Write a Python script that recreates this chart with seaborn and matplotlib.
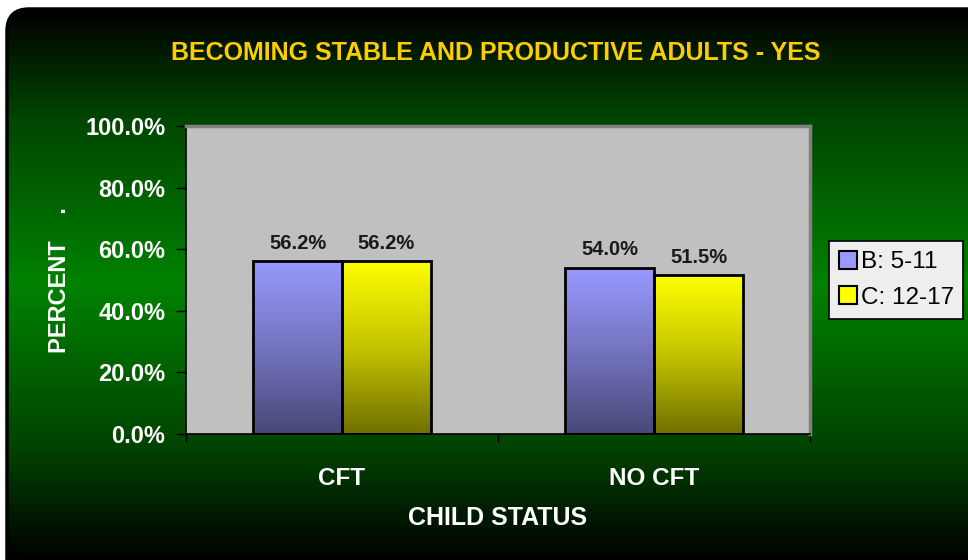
import matplotlib
matplotlib.use('Agg')
import matplotlib.pyplot as plt
import numpy as np
import pandas as pd
import seaborn as sns
from matplotlib.colors import LinearSegmentedColormap
from matplotlib.patches import FancyBboxPatch, Patch

# Data
categories = ['CFT', 'NO CFT']
groups = ['B: 5-11', 'C: 12-17']
b_values = [56.2, 54.0]
c_values = [56.2, 51.5]
y_ticks = [0, 20, 40, 60, 80, 100]

df = pd.DataFrame({
    'status': categories * 2,
    'group': [groups[0]] * 2 + [groups[1]] * 2,
    'pct': b_values + c_values,
})

sns.set_theme(style='white')
plt.rcParams['font.family'] = ['Liberation Sans', 'DejaVu Sans']

W, H = 968, 560
fig = plt.figure(figsize=(W / 100, H / 100), dpi=100)
fig.patch.set_facecolor('white')

# Background: rounded panel with a black-green-black gradient
bg = fig.add_axes([0, 0, 1, 1], zorder=-10)
bg.set_xlim(0, W)
bg.set_ylim(H, 0)
bg.axis('off')
panel = FancyBboxPatch((7, 9), W + 30, H + 30, boxstyle='round,pad=0,rounding_size=22',
                       facecolor='none', edgecolor='black', linewidth=2.5)
bg.add_patch(panel)
green_cm = LinearSegmentedColormap.from_list(
    'bg', [(0, '#000000'), (0.2, '#004200'), (0.5, '#008200'), (0.8, '#004600'), (1, '#000000')])
grad = np.linspace(0, 1, 256).reshape(-1, 1)
im = bg.imshow(grad, extent=[7, W + 37, H, 9], aspect='auto', cmap=green_cm, origin='lower')
im.set_clip_path(panel)

# Main plot
ax = fig.add_axes([186 / W, 1 - 434 / H, 624 / W, 308 / H])
ax.set_facecolor('#C0C0C0')

sns.barplot(data=df, x='status', y='pct', hue='group', hue_order=groups, order=categories,
            palette=['#9999FF', '#FFFF00'], width=0.57, edgecolor='black', linewidth=2,
            legend=False, ax=ax)

# vertical gradient inside each bar
cmaps = [LinearSegmentedColormap.from_list('b', ['#484878', '#7474C0', '#9999FF']),
         LinearSegmentedColormap.from_list('c', ['#707000', '#C4C400', '#FFFF00'])]
vgrad = np.linspace(0, 1, 256).reshape(-1, 1)
for cont, cm in zip(ax.containers, cmaps):
    for p in cont:
        x, w, h = p.get_x(), p.get_width(), p.get_height()
        p.set_facecolor('none')
        p.set_zorder(3)
        g = ax.imshow(vgrad, extent=[x, x + w, 0, h], aspect='auto', cmap=cm,
                      origin='lower', zorder=2)
        g.set_clip_path(p)
    ax.bar_label(cont, fmt='%.1f%%', padding=6, fontsize=14.5, fontweight='bold', color='#1a1a1a')

ax.set_xlim(-0.5, 1.5)
ax.set_ylim(0, 100)
ax.set_yticks(y_ticks)
ax.set_yticklabels([f'{v:.1f}%' for v in y_ticks], fontsize=17, fontweight='bold', color='white')
ax.tick_params(axis='y', direction='out', length=7, width=1, color='black', pad=8, left=True)
ax.set_xticks([0, 1])
ax.set_xticklabels(categories, fontsize=17.5, fontweight='bold', color='white')
ax.set_xticks([-0.5, 0.5, 1.5], minor=True)
ax.tick_params(axis='x', which='major', length=0, pad=24)
ax.tick_params(axis='x', which='minor', direction='out', length=6, width=1, color='black', bottom=True)

for side in ['top', 'right']:
    ax.spines[side].set_color('#808080')
    ax.spines[side].set_linewidth(2.5)
for side in ['left', 'bottom']:
    ax.spines[side].set_color('black')
    ax.spines[side].set_linewidth(1.2)

ax.set_xlabel('CHILD STATUS', fontsize=18, fontweight='bold', color='white', labelpad=11)
ax.set_ylabel('PERCENT    .', fontsize=17, fontweight='bold', color='white', labelpad=10)

fig.text(496 / W, 1 - 53 / H, 'BECOMING STABLE AND PRODUCTIVE ADULTS - YES', ha='center',
         va='center', fontsize=18, fontweight='bold', color='#FFCC00')

handles = [Patch(facecolor='#9999FF', edgecolor='black', linewidth=1.5),
           Patch(facecolor='#FFFF00', edgecolor='black', linewidth=1.5)]
leg = fig.legend(handles, groups, loc='upper left', bbox_to_anchor=(829 / W, 1 - 241 / H),
                 fontsize=17.5, frameon=True, fancybox=False, borderpad=0.4, handlelength=0.75,
                 handleheight=0.75, handletextpad=0.15, labelspacing=0.55, borderaxespad=0)
frame = leg.get_frame()
frame.set_facecolor('#EEEEEE')
frame.set_alpha(1)
frame.set_edgecolor('black')
frame.set_linewidth(1.2)
for t in leg.get_texts():
    t.set_color('black')

fig.savefig('out.png', dpi=100, facecolor='white')
